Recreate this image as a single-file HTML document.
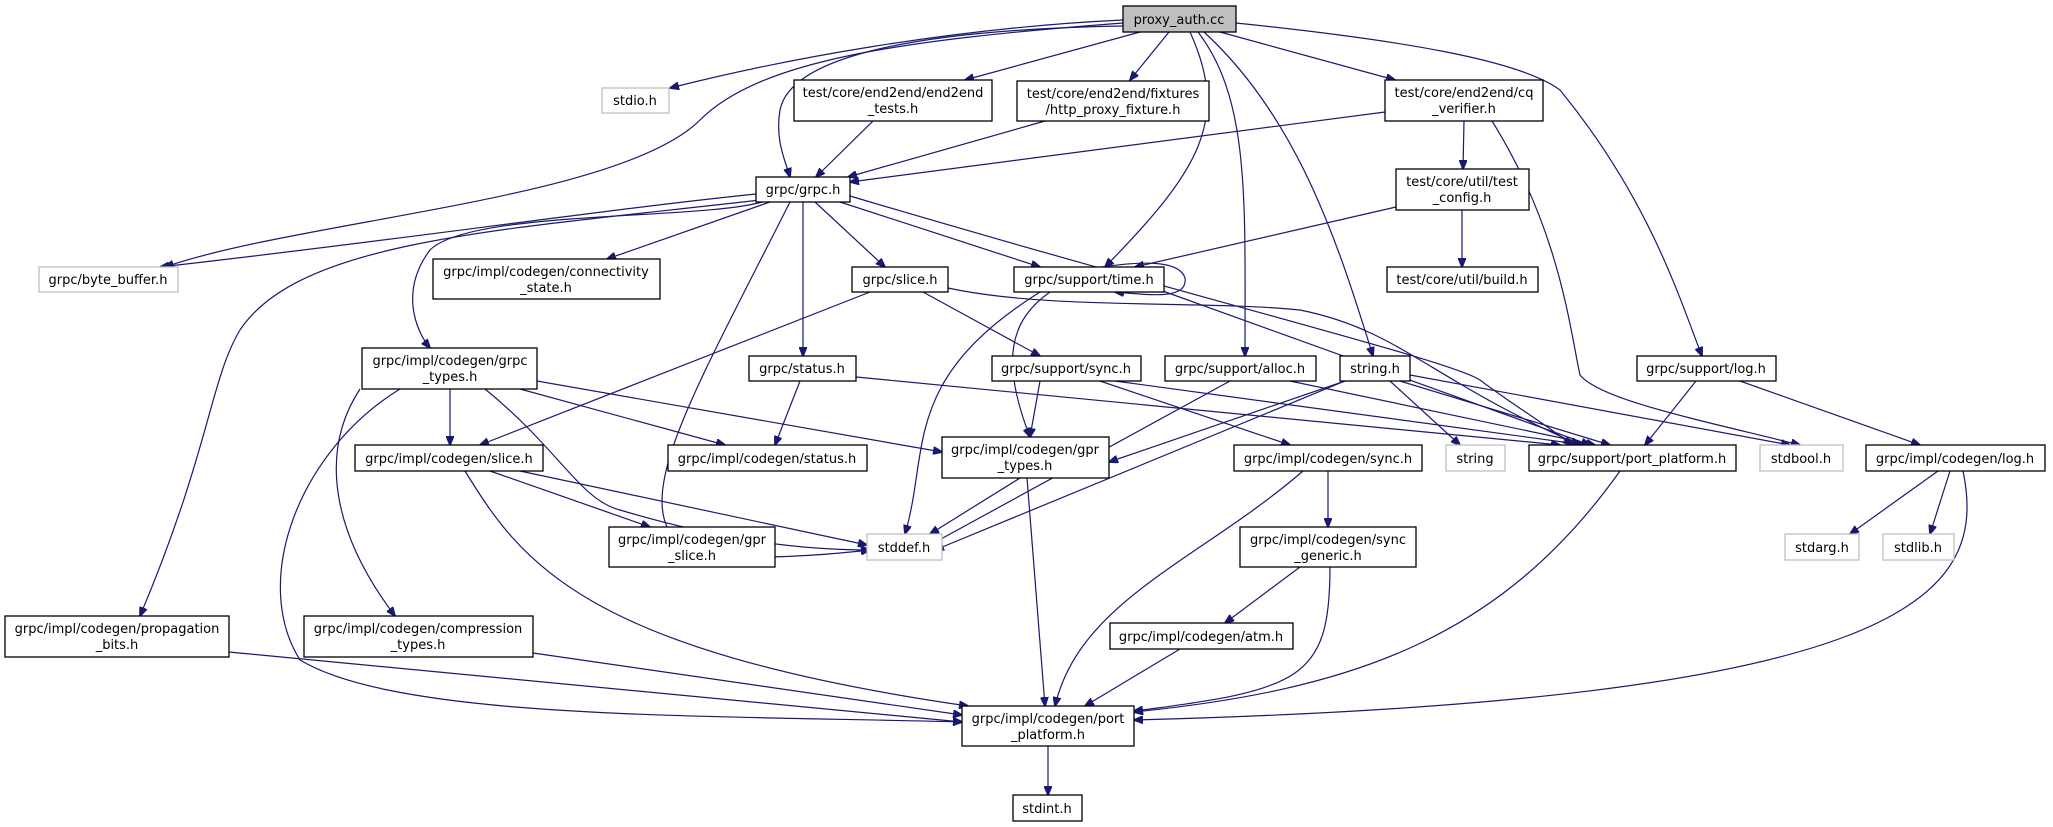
<!DOCTYPE html>
<html><head><meta charset="utf-8"><style>
html,body{margin:0;padding:0;background:#fff;}
svg{display:block;}
text{font-family:"DejaVu Sans","Liberation Sans",sans-serif;font-size:13px;fill:#000;text-anchor:middle;}
.e{fill:none;stroke:#191970;stroke-width:1.2;marker-end:url(#a);}
.b{fill:#fff;stroke:#000;stroke-width:1.3;}
.g{fill:#fff;stroke:#bfbfbf;stroke-width:1.3;}
</style></head><body>
<svg width="2053" height="827" viewBox="0 0 2053 827" xmlns="http://www.w3.org/2000/svg">
<defs><marker id="a" markerWidth="10" markerHeight="8" refX="9" refY="4" orient="auto" markerUnits="userSpaceOnUse"><path d="M0,0 L10,4 L0,8 z" fill="#191970" stroke="#191970"/></marker></defs>
<!-- edges -->
<path class="e" d="M1123,20 C950,28 780,60 670,88"/>
<path class="e" d="M1123,23 C900,40 760,60 700,120 C620,200 300,220 165,267"/>
<path class="e" d="M1123,26 C900,30 790,60 780,110 C775,140 785,160 790,177"/>
<path class="e" d="M1140,32 L965,80"/>
<path class="e" d="M1169,32 L1130,80"/>
<path class="e" d="M1190,32 C1230,120 1200,170 1105,267"/>
<path class="e" d="M1198,32 C1250,100 1245,200 1245,356"/>
<path class="e" d="M1204,32 C1300,120 1340,250 1373,356"/>
<path class="e" d="M1220,32 L1395,80"/>
<path class="e" d="M1236,23 C1400,40 1520,60 1560,90 C1650,200 1680,300 1702,356"/>
<path class="e" d="M873,121 L816,177"/>
<path class="e" d="M1045,121 L848,177"/>
<path class="e" d="M1385,112 L850,182"/>
<path class="e" d="M1464,121 L1463,169"/>
<path class="e" d="M1492,121 C1560,230 1570,330 1580,375 C1600,400 1700,420 1800,445"/>
<path class="e" d="M1396,207 L1135,267"/>
<path class="e" d="M1462,210 L1462,267"/>
<path class="e" d="M756,194 C600,210 400,240 160,267"/>
<path class="e" d="M770,202 L607,259"/>
<path class="e" d="M762,202 C700,220 470,210 430,250 C400,290 415,330 430,348"/>
<path class="e" d="M760,200 C500,230 300,240 240,330 C210,380 210,450 140,616"/>
<path class="e" d="M815,202 L885,267"/>
<path class="e" d="M803,202 L803,356"/>
<path class="e" d="M840,202 L1040,267"/>
<path class="e" d="M790,202 C690,400 630,500 680,545 C700,560 780,560 870,550"/>
<path class="e" d="M850,196 C1200,300 1450,360 1480,380 C1520,410 1540,420 1572,445"/>
<path class="e" d="M870,292 L480,445"/>
<path class="e" d="M923,292 L1040,356"/>
<path class="e" d="M948,288 C1050,310 1200,300 1300,310 C1400,330 1430,380 1580,445"/>
<path class="e" d="M1050,292 C1010,320 1000,360 1030,437"/>
<path class="e" d="M1040,292 C900,380 930,450 905,534"/>
<path class="e" d="M1160,290 L1590,445"/>
<path class="e" d="M1102,267 C1150,260 1180,262 1185,278 C1188,300 1150,295 1115,292"/>
<path class="e" d="M450,389 L450,445"/>
<path class="e" d="M520,389 L725,445"/>
<path class="e" d="M537,381 L942,452"/>
<path class="e" d="M485,389 C560,450 580,500 620,510 C720,540 800,550 870,550"/>
<path class="e" d="M400,389 C300,450 250,580 300,660 C400,720 700,715 962,722"/>
<path class="e" d="M360,389 C320,450 330,530 395,616"/>
<path class="e" d="M800,381 L775,445"/>
<path class="e" d="M856,377 L1560,445"/>
<path class="e" d="M1040,381 L1030,437"/>
<path class="e" d="M1100,381 L1290,445"/>
<path class="e" d="M1115,381 L1585,445"/>
<path class="e" d="M1230,381 L930,545"/>
<path class="e" d="M1290,381 L1595,445"/>
<path class="e" d="M1345,381 L935,550"/>
<path class="e" d="M1345,381 L1109,462"/>
<path class="e" d="M1390,381 L1460,445"/>
<path class="e" d="M1400,381 L1610,445"/>
<path class="e" d="M1410,375 L1790,445"/>
<path class="e" d="M1696,381 L1645,445"/>
<path class="e" d="M1740,381 L1920,445"/>
<path class="e" d="M490,471 L650,527"/>
<path class="e" d="M520,471 L867,545"/>
<path class="e" d="M465,471 C520,560 580,650 968,706"/>
<path class="e" d="M1020,478 L930,534"/>
<path class="e" d="M1027,478 L1045,706"/>
<path class="e" d="M1303,471 C1200,560 1080,600 1055,706"/>
<path class="e" d="M1328,471 L1328,527"/>
<path class="e" d="M1300,567 L1225,623"/>
<path class="e" d="M1330,567 C1330,680 1300,690 1134,711"/>
<path class="e" d="M1180,649 L1085,706"/>
<path class="e" d="M1620,471 C1500,640 1350,690 1134,712"/>
<path class="e" d="M1938,471 L1850,534"/>
<path class="e" d="M1950,471 L1930,534"/>
<path class="e" d="M1963,471 C1990,600 1900,700 1134,720"/>
<path class="e" d="M229,652 L962,722"/>
<path class="e" d="M533,653 L962,715"/>
<path class="e" d="M1048,746 L1048,795"/>
<!-- nodes -->
<rect x="1123" y="6" width="113" height="26" fill="#bfbfbf" stroke="#000" stroke-width="1.3"/><text x="1179" y="24">proxy_auth.cc</text>
<rect class="g" x="602" y="88" width="67" height="25"/><text x="635" y="105">stdio.h</text>
<rect class="b" x="794" y="80" width="198" height="41"/><text x="893" y="97">test/core/end2end/end2end</text><text x="893" y="113">_tests.h</text>
<rect class="b" x="1017" y="81" width="192" height="40"/><text x="1113" y="98">test/core/end2end/fixtures</text><text x="1113" y="114">/http_proxy_fixture.h</text>
<rect class="b" x="1385" y="80" width="158" height="41"/><text x="1464" y="97">test/core/end2end/cq</text><text x="1464" y="113">_verifier.h</text>
<rect class="b" x="756" y="177" width="94" height="25"/><text x="803" y="194">grpc/grpc.h</text>
<rect class="b" x="1396" y="169" width="133" height="41"/><text x="1462" y="186">test/core/util/test</text><text x="1462" y="202">_config.h</text>
<rect class="g" x="39" y="267" width="139" height="25"/><text x="108" y="284">grpc/byte_buffer.h</text>
<rect class="b" x="433" y="259" width="227" height="40"/><text x="546" y="276">grpc/impl/codegen/connectivity</text><text x="546" y="292">_state.h</text>
<rect class="b" x="852" y="267" width="96" height="25"/><text x="900" y="284">grpc/slice.h</text>
<rect class="b" x="1014" y="267" width="150" height="25"/><text x="1089" y="284">grpc/support/time.h</text>
<rect class="b" x="1387" y="267" width="151" height="25"/><text x="1462" y="284">test/core/util/build.h</text>
<rect class="b" x="362" y="348" width="175" height="41"/><text x="450" y="365">grpc/impl/codegen/grpc</text><text x="450" y="381">_types.h</text>
<rect class="b" x="749" y="356" width="107" height="25"/><text x="802" y="373">grpc/status.h</text>
<rect class="b" x="992" y="356" width="149" height="25"/><text x="1066" y="373">grpc/support/sync.h</text>
<rect class="b" x="1165" y="356" width="151" height="25"/><text x="1240" y="373">grpc/support/alloc.h</text>
<rect class="b" x="1340" y="356" width="70" height="25"/><text x="1375" y="373">string.h</text>
<rect class="b" x="1637" y="356" width="139" height="25"/><text x="1706" y="373">grpc/support/log.h</text>
<rect class="b" x="355" y="445" width="188" height="26"/><text x="449" y="463">grpc/impl/codegen/slice.h</text>
<rect class="b" x="668" y="445" width="199" height="26"/><text x="767" y="463">grpc/impl/codegen/status.h</text>
<rect class="b" x="942" y="437" width="167" height="41"/><text x="1025" y="454">grpc/impl/codegen/gpr</text><text x="1025" y="470">_types.h</text>
<rect class="b" x="1234" y="445" width="188" height="26"/><text x="1328" y="463">grpc/impl/codegen/sync.h</text>
<rect class="g" x="1446" y="445" width="59" height="26"/><text x="1475" y="463">string</text>
<rect class="b" x="1529" y="445" width="207" height="26"/><text x="1632" y="463">grpc/support/port_platform.h</text>
<rect class="g" x="1760" y="445" width="83" height="26"/><text x="1801" y="463">stdbool.h</text>
<rect class="b" x="1866" y="445" width="179" height="26"/><text x="1955" y="463">grpc/impl/codegen/log.h</text>
<rect class="b" x="609" y="527" width="166" height="40"/><text x="692" y="544">grpc/impl/codegen/gpr</text><text x="692" y="560">_slice.h</text>
<rect class="g" x="867" y="534" width="75" height="26"/><text x="904" y="552">stddef.h</text>
<rect class="b" x="1240" y="527" width="176" height="40"/><text x="1328" y="544">grpc/impl/codegen/sync</text><text x="1328" y="560">_generic.h</text>
<rect class="g" x="1785" y="534" width="74" height="26"/><text x="1822" y="552">stdarg.h</text>
<rect class="g" x="1883" y="534" width="71" height="26"/><text x="1918" y="552">stdlib.h</text>
<rect class="b" x="1110" y="623" width="183" height="26"/><text x="1201" y="641">grpc/impl/codegen/atm.h</text>
<rect class="b" x="5" y="616" width="224" height="41"/><text x="117" y="633">grpc/impl/codegen/propagation</text><text x="117" y="649">_bits.h</text>
<rect class="b" x="304" y="616" width="229" height="41"/><text x="418" y="633">grpc/impl/codegen/compression</text><text x="418" y="649">_types.h</text>
<rect class="b" x="962" y="706" width="172" height="40"/><text x="1048" y="723">grpc/impl/codegen/port</text><text x="1048" y="739">_platform.h</text>
<rect class="b" x="1013" y="795" width="69" height="26"/><text x="1047" y="813">stdint.h</text>
</svg>
</body></html>
